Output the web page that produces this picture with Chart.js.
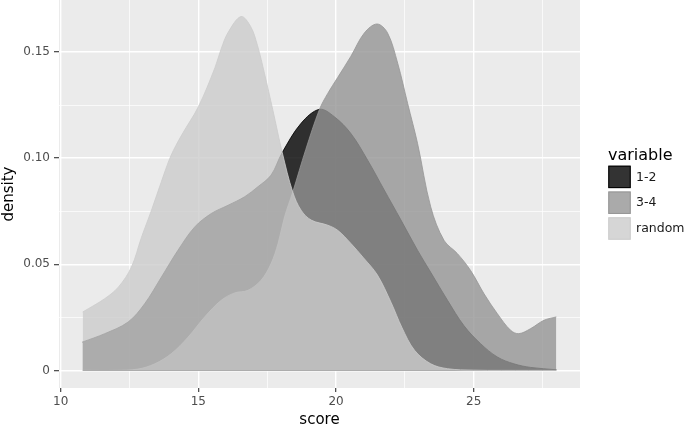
<!DOCTYPE html>
<html><head><meta charset="utf-8">
<script src="https://cdn.jsdelivr.net/npm/chart.js@4/dist/chart.umd.min.js"></script>
<style>html,body{margin:0;padding:0;background:#fff}#wrap{width:685px;height:428px}</style>
</head><body><div id="wrap"><canvas id="c" width="685" height="428"></canvas></div>
<script>
// ---- data (kernel density estimates by group) ----
const seriesNames = ['1-2', '3-4', 'random'];

const x12 = [10.8, 11.6, 12.45, 13.05, 13.66, 14.26, 14.87, 15.47, 16.08, 16.68, 17.16, 17.64, 18.04, 18.73, 19.4, 19.94, 20.54, 21.15, 21.75, 22.36, 22.96, 23.44, 24.05, 24.65, 25.25, 25.86, 26.46, 27.07, 28.0];
const y12 = [0.0134, 0.0173, 0.0228, 0.0314, 0.044, 0.0566, 0.0676, 0.0739, 0.0778, 0.0818, 0.0865, 0.092, 0.1025, 0.1164, 0.123, 0.1195, 0.1116, 0.099, 0.085, 0.0708, 0.0566, 0.0462, 0.033, 0.021, 0.0126, 0.0063, 0.0031, 0.0014, 0.0003];

const x34 = [10.8, 12.0, 12.8, 13.42, 14.02, 14.63, 15.23, 15.83, 16.32, 16.8, 17.28, 17.64, 17.9, 18.13, 18.43, 18.9, 19.4, 19.7, 20.06, 20.54, 21.03, 21.49, 21.87, 22.24, 22.6, 22.96, 23.44, 23.92, 24.41, 24.89, 25.38, 25.86, 26.34, 26.64, 27.07, 27.55, 28.0];
const y34 = [0, 0, 0.0006, 0.0031, 0.0079, 0.0157, 0.0252, 0.033, 0.0365, 0.0377, 0.0425, 0.0503, 0.060, 0.0723, 0.0841, 0.104, 0.123, 0.1305, 0.138, 0.148, 0.159, 0.1632, 0.159, 0.1447, 0.1258, 0.107, 0.077, 0.0613, 0.055, 0.047, 0.036, 0.0267, 0.0189, 0.0173, 0.0197, 0.0236, 0.0252];

const xRandom = [10.8, 11.6, 12.1, 12.57, 12.93, 13.3, 13.66, 14.0, 14.4, 15.0, 15.6, 15.83, 16.08, 16.55, 16.9, 17.15, 17.4, 17.7, 18.05, 18.43, 18.73, 19.1, 19.7, 20.06, 20.54, 21.0, 21.5, 22.0, 22.4, 22.85, 23.44, 24.05, 25.0, 26.0, 28.0];
const yRandom = [0.0275, 0.0338, 0.0393, 0.0487, 0.0625, 0.0755, 0.089, 0.101, 0.111, 0.1242, 0.1425, 0.1515, 0.1592, 0.1667, 0.162, 0.153, 0.140, 0.123, 0.1025, 0.084, 0.0755, 0.0708, 0.0684, 0.066, 0.0598, 0.053, 0.045, 0.032, 0.020, 0.0095, 0.0031, 0.0008, 0.0001, 0, 0];

const xMajorTicks = [10, 15, 20, 25];
const xMinorTicks = [12.5, 17.5, 22.5, 27.5];
const yMajorTicks = [0, 0.05, 0.10, 0.15];
const yMinorTicks = [0.025, 0.075, 0.125];
const yTickLabels = ['0', '0.05', '0.10', '0.15'];

// ---- styling ----
const greyLevels = [0, 149, 204];   // grey.colors(3, 0, 0.8)
const fillAlpha = 0.8;
const FONT = '"DejaVu Sans", "Liberation Sans", sans-serif';

const toPts = (xs, ys) => xs.map((x, i) => ({x: x, y: ys[i]}));
const seriesX = [x12, x34, xRandom];
const seriesY = [y12, y34, yRandom];

const datasets = seriesNames.map((name, i) => {
  const g = greyLevels[i];
  return {
    label: name,
    data: toPts(seriesX[i], seriesY[i]),
    backgroundColor: `rgba(${g},${g},${g},${fillAlpha})`,
    borderColor: `rgb(${g},${g},${g})`,
    borderWidth: 0.8,
    fill: 'origin',
    pointRadius: 0,
    tension: 0.35,
    order: seriesNames.length - i
  };
});

const isIn = (arr, v) => arr.some(t => Math.abs(t - v) < 1e-9);

const panelBg = {
  id: 'panelBg',
  beforeDraw(chart) {
    const {ctx, chartArea: a} = chart;
    ctx.save();
    ctx.fillStyle = '#EBEBEB';
    ctx.fillRect(a.left, a.top, a.right - a.left, a.bottom - a.top);
    ctx.restore();
  }
};

const ggLegend = {
  id: 'ggLegend',
  afterDraw(chart) {
    const ctx = chart.ctx;
    ctx.save();
    ctx.fillStyle = '#000';
    ctx.font = '16px ' + FONT;
    ctx.textBaseline = 'alphabetic';
    ctx.textAlign = 'left';
    ctx.fillText('variable', 608, 160);
    const size = 22.4, pitch = 25.8, x0 = 608.3, y0 = 165.7;
    chart.data.datasets.forEach((ds, i) => {
      const y = y0 + i * pitch;
      ctx.fillStyle = '#fff';
      ctx.fillRect(x0, y, size, size);
      ctx.fillStyle = ds.backgroundColor;
      ctx.fillRect(x0, y, size, size);
      ctx.strokeStyle = ds.borderColor;
      ctx.lineWidth = 1;
      ctx.strokeRect(x0 + 0.5, y + 0.5, size - 1, size - 1);
      ctx.fillStyle = '#1a1a1a';
      ctx.font = '12.5px ' + FONT;
      ctx.textBaseline = 'middle';
      ctx.fillText(ds.label, 636, y + size / 2 + 0.5);
    });
    ctx.restore();
  }
};

new Chart(document.getElementById('c'), {
  type: 'line',
  data: {datasets},
  plugins: [panelBg, ggLegend],
  options: {
    responsive: false,
    devicePixelRatio: 1,
    animation: false,
    layout: {padding: {left: 0, top: 0, right: 105, bottom: 0}},
    plugins: {legend: {display: false}, tooltip: {enabled: false}},
    scales: {
      x: {
        type: 'linear',
        min: 9.94, max: 28.86,
        afterBuildTicks: s => { s.ticks = xMajorTicks.concat(xMinorTicks).sort((a, b) => a - b).map(v => ({value: v})); },
        afterFit: s => { s.height = 40; s.paddingLeft = 0; s.paddingRight = 0; },
        border: {display: false},
        grid: {
          color: '#FFFFFF',
          lineWidth: c => (c.tick && isIn(xMajorTicks, c.tick.value)) ? 1.4 : 0.7,
          tickColor: c => (c.tick && isIn(xMajorTicks, c.tick.value)) ? '#333333' : 'rgba(0,0,0,0)',
          tickLength: 4,
          tickWidth: 1.1
        },
        ticks: {
          autoSkip: false, maxRotation: 0, padding: 3,
          color: '#4D4D4D', font: {family: FONT, size: 12},
          callback: v => isIn(xMajorTicks, v) ? String(v) : ''
        },
        title: {display: true, text: 'score', color: '#000', font: {family: FONT, size: 15, lineHeight: 1}, padding: {top: 0, bottom: 0}}
      },
      y: {
        type: 'linear',
        min: -0.0083, max: 0.1745,
        afterBuildTicks: s => { s.ticks = yMajorTicks.concat(yMinorTicks).sort((a, b) => a - b).map(v => ({value: v})); },
        afterFit: s => { s.width = 59; s.paddingTop = 0; s.paddingBottom = 0; },
        border: {display: false},
        grid: {
          color: '#FFFFFF',
          lineWidth: c => (c.tick && isIn(yMajorTicks, c.tick.value)) ? 1.4 : 0.7,
          tickColor: c => (c.tick && isIn(yMajorTicks, c.tick.value)) ? '#333333' : 'rgba(0,0,0,0)',
          tickLength: 5,
          tickWidth: 1.1
        },
        ticks: {
          autoSkip: false, padding: 4,
          color: '#4D4D4D', font: {family: FONT, size: 12},
          callback: v => { const k = yMajorTicks.findIndex(t => Math.abs(t - v) < 1e-9); return k >= 0 ? yTickLabels[k] : ''; }
        },
        title: {display: true, text: 'density', color: '#000', font: {family: FONT, size: 15, lineHeight: 1}, padding: {top: 1.5, bottom: 0}}
      }
    }
  }
});
</script>
</body></html>
